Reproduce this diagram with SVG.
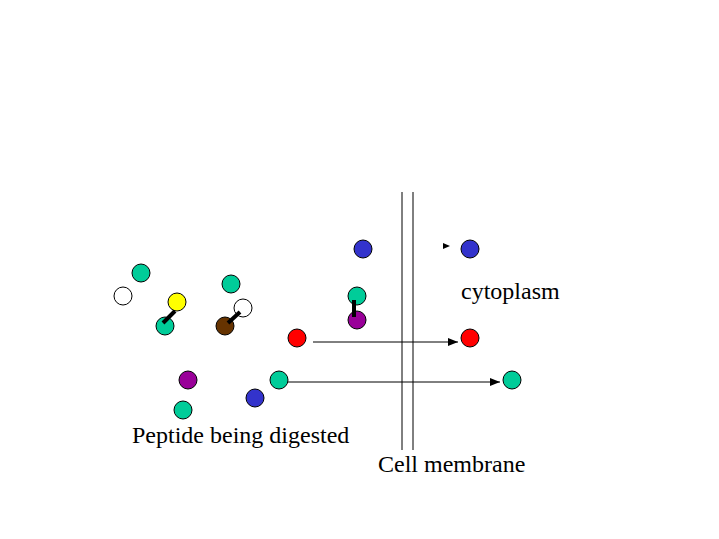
<svg xmlns="http://www.w3.org/2000/svg" width="719" height="539" viewBox="0 0 719 539">
<style>
circle{stroke:#000;stroke-width:1}
.t{fill:#00CC99}.b{fill:#3333CC}.p{fill:#990099}.r{fill:#FF0000}.w{fill:#FFFFFF}.y{fill:#FFFF00}.br{fill:#663300}
.bond{stroke:#000;stroke-width:4}
.conn{stroke:#000;stroke-width:1;fill:none}
text{font-family:"Liberation Serif",serif;font-size:24px;fill:#000}
</style>
<defs>
<marker id="ah" markerWidth="10" markerHeight="8" refX="10" refY="4" orient="auto" markerUnits="userSpaceOnUse">
<path d="M0,0 L10,4 L0,8 Z" fill="#000"/>
</marker>
</defs>
<rect width="719" height="539" fill="#fff"/>
<g id="membrane">
<line class="conn" x1="402" y1="192" x2="402" y2="450"/>
<line class="conn" x1="413" y1="192" x2="413" y2="450"/>
</g>
<g id="connectors">
<line class="conn" x1="313" y1="342" x2="458" y2="342" marker-end="url(#ah)"/>
<line class="conn" x1="288" y1="382" x2="500" y2="382" marker-end="url(#ah)"/>
<path d="M443,243 L450,246 L443,249 Z" fill="#000"/>
</g>
<g id="peptide1">
<circle class="y" cx="177" cy="302" r="9"/>
<circle class="t" cx="165" cy="326" r="9"/>
<line class="bond" x1="163" y1="323" x2="175" y2="311"/>
</g>
<g id="peptide2">
<circle class="w" cx="243" cy="308" r="9"/>
<circle class="br" cx="225" cy="326" r="9"/>
<line class="bond" x1="228" y1="323" x2="240" y2="312"/>
</g>
<g id="peptide3">
<circle class="t" cx="357" cy="296" r="9"/>
<circle class="p" cx="357" cy="320" r="9"/>
<line class="bond" x1="354" y1="300" x2="354" y2="317"/>
</g>
<g id="free">
<circle class="t" cx="141" cy="273" r="9"/>
<circle class="w" cx="123" cy="296" r="9"/>
<circle class="t" cx="231" cy="284" r="9"/>
<circle class="r" cx="297" cy="338" r="9"/>
<circle class="b" cx="363" cy="249" r="9"/>
<circle class="p" cx="188" cy="380" r="9"/>
<circle class="t" cx="183" cy="410" r="9"/>
<circle class="b" cx="255" cy="398" r="9"/>
<circle class="t" cx="279" cy="380" r="9"/>
</g>
<g id="inside">
<circle class="b" cx="470" cy="249" r="9"/>
<circle class="r" cx="470" cy="338" r="9"/>
<circle class="t" cx="512" cy="380" r="9"/>
</g>
<g id="labels">
<text x="461" y="299">cytoplasm</text>
<text x="132" y="443">Peptide being digested</text>
<text x="378" y="472">Cell membrane</text>
</g>
</svg>
